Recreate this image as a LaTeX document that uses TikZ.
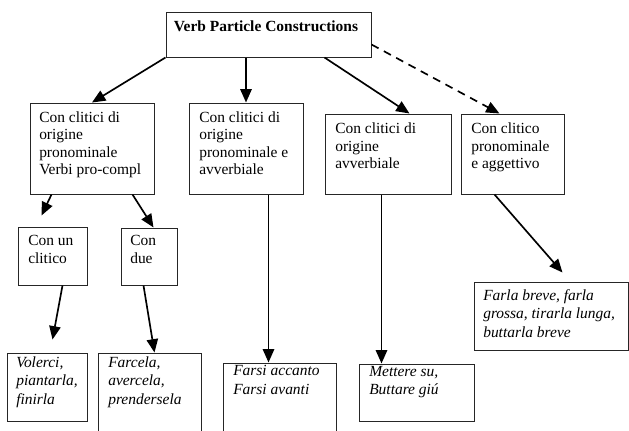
\documentclass[tikz,border=0pt]{standalone}
\usepackage{fontspec}
\setmainfont{Liberation Serif}
\usetikzlibrary{arrows.meta,calc,fit}
\newcommand{\mylines}[1]{\begin{tabular}[t]{@{}l@{}}#1\end{tabular}}
\begin{document}
\begin{tikzpicture}[x=0.75pt,y=-0.75pt,
  box/.style={draw=black!85, line width=0.75pt, inner sep=0pt},
  txt/.style={anchor=base west, inner sep=0pt, font=\fontsize{11.6pt}{13.2pt}\selectfont},
  itxt/.style={anchor=base west, inner sep=0pt, font=\fontsize{11.6pt}{14.2pt}\selectfont\itshape},
  arr/.style={line width=1.25pt, -{Triangle[length=10pt,width=8.5pt]}},
]
\useasboundingbox (0,0) rectangle (629,430);
\clip (0,0) rectangle (629,430);
% boxes
\node[box, fit={(166,12) (371,57)}] (root) {};
\node[box, fit={(30,103) (154,194)}] (A) {};
\node[box, fit={(189,103) (303,194)}] (B) {};
\node[box, fit={(325,114) (451,194)}] (C) {};
\node[box, fit={(461,114) (564,194)}] (D) {};
\node[box, fit={(18,227) (87,285)}] (E) {};
\node[box, fit={(121,228) (177,285)}] (F) {};
\node[box, fit={(7,353) (87,421)}] (G) {};
\node[box, fit={(98,353) (201,445)}] (H) {};
\node[box, fit={(223,363) (336,445)}] (I) {};
\node[box, fit={(359,364) (474,421)}] (J) {};
\node[box, fit={(474,282) (628,350)}] (K) {};
% texts
\node[anchor=base, inner sep=0pt, font=\fontsize{11.6pt}{13.2pt}\selectfont\bfseries] (rootT) at (266,31) {Verb Particle Constructions};
\node[txt] (AT) at (39,122) {\mylines{Con clitici di\\origine\\pronominale\\Verbi pro-compl}};
\node[txt] (BT) at (199,122) {\mylines{Con clitici di\\origine\\pronominale e\\avverbiale}};
\node[txt] (CT) at (335,133.5) {\mylines{Con clitici di\\origine\\avverbiale}};
\node[txt] (DT) at (471,133.5) {\mylines{Con clitico\\pronominale\\e aggettivo}};
\node[txt] (ET) at (28,245.5) {\mylines{Con un\\clitico}};
\node[txt] (FT) at (130,245.5) {\mylines{Con\\due}};
\node[itxt] (GT) at (16,367) {\mylines{Volerci,\\piantarla,\\finirla}};
\node[itxt] (HT) at (108,367) {\mylines{Farcela,\\avercela,\\prendersela}};
\node[itxt] (IT) at (233,375.5) {\mylines{Farsi accanto\\Farsi avanti}};
\node[itxt] (JT) at (369,376) {\mylines{Mettere su,\\Buttare giú}};
\node[itxt] (KT) at (483,300) {\mylines{Farla breve, farla\\grossa, tirarla lunga,\\buttarla breve}};
% free arrow ends
\coordinate (eTip) at ($(E.north west)+(24,-11)$);
\coordinate (gTip) at ($(G.north west)+(46,-13)$);
\coordinate (kTip) at ($(K.north west)+(89,-9)$);
% connectors
\draw[arr] (root.south west) -- (A.north);
\draw[arr] (B.north |- root.south) -- (B.north);
\draw[arr] ($(root.south west)+(159,0)$) -- ($(C.north west)+(85,0)$);
\draw[arr, dash pattern=on 6pt off 4.5pt] ($(root.north east)+(0,33)$) -- ($(D.north west)+(39,0)$);
\draw[arr] ($(A.south west)+(22,0)$) -- (eTip);
\draw[arr] ($(A.south west)+(103,0)$) -- ($(F.north west)+(33,0)$);
\draw[arr] ($(E.south west)+(45,0)$) -- (gTip);
\draw[arr] ($(F.south west)+(23,0)$) -- ($(H.north west)+(57,0)$);
\draw[arr] ($(B.south west)+(80,0)$) -- ($(I.north west)+(46,0)$);
\draw[arr] ($(C.south west)+(57,0)$) -- ($(J.north west)+(23,0)$);
\draw[arr] ($(D.south west)+(34,0)$) -- (kTip);
\end{tikzpicture}
\end{document}
